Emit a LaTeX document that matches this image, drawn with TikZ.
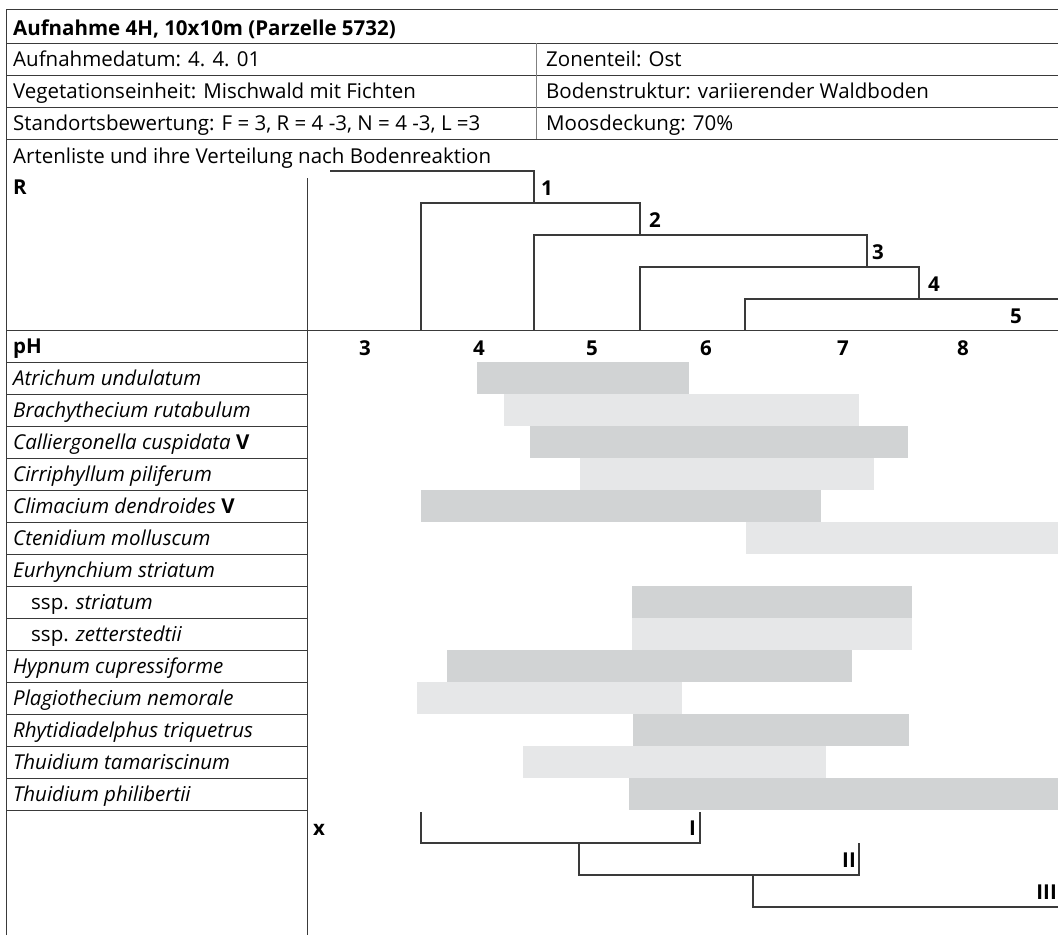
\documentclass[tikz,border=0pt]{standalone}
\usepackage{fontspec}
\setmainfont{Open Sans}
\definecolor{bardark}{HTML}{D1D3D4}
\definecolor{barlight}{HTML}{E6E7E8}
\definecolor{rulegray}{HTML}{3A3A3A}
\tikzset{
    grid line/.style = {
        draw=rulegray,
        line width=1pt,
        },
    tree line/.style = {
        draw=rulegray,
        line width=1.1pt,
        },
    cell/.style = {
        anchor=base west,
        inner sep=0pt,
        font=\fontsize{20.5}{24}\selectfont,
        },
    head/.style = {
        cell,
        font=\fontsize{20.5}{24}\selectfont\bfseries,
        },
    species/.style = {
        cell,
        font=\fontsize{20.5}{24}\selectfont\itshape,
        },
    tick label/.style = {
        anchor=base,
        inner sep=0pt,
        font=\fontsize{20.5}{24}\selectfont\bfseries,
        },
    dark bar/.style = {
        fill=bardark,
        },
    light bar/.style = {
        fill=barlight,
        },
}

\begin{document}
\begin{tikzpicture}[x=1pt,y=-1pt]
    \useasboundingbox (0,0) rectangle (1058,935);

    % bars
    \fill[dark bar]  (477,362) rectangle (689,394);
    \fill[light bar] (504,394) rectangle (859,426);
    \fill[dark bar]  (530,426) rectangle (908,458);
    \fill[light bar] (580,458) rectangle (874,490);
    \fill[dark bar]  (421,490) rectangle (821,522);
    \fill[light bar] (746,522) rectangle (1058,554);
    \fill[dark bar]  (632,586) rectangle (912,618);
    \fill[light bar] (632,618) rectangle (912,650);
    \fill[dark bar]  (447,650) rectangle (852,682);
    \fill[light bar] (417,682) rectangle (682,714);
    \fill[dark bar]  (633,714) rectangle (909,746);
    \fill[light bar] (523,746) rectangle (826,778);
    \fill[dark bar]  (629,778) rectangle (1058,810);

    % table frame
    \draw[grid line] (6,935) -- (6,9) -- (1058,9);
    \draw[grid line] (6,43) -- (1058,43);
    \draw[grid line] (6,75) -- (1058,75);
    \draw[grid line] (6,107) -- (1058,107);
    \draw[grid line] (6,139) -- (1058,139);
    \draw[grid line, draw=gray] (536,43) -- (536,139);
    \draw[grid line] (307,178) -- (307,935);
    \draw[grid line] (6,330) -- (1058,330);
    \foreach \y in {362,394,...,810}
        \draw[grid line] (6,\y) -- (307,\y);

    % header
    \node[head] (title) at (13,35) {Aufnahme 4H, 10x10m (Parzelle 5732)};
    \node[cell] (datum) at (13,66) {Aufnahmedatum: 4. 4. 01};
    \node[cell] (zone) at (546,66) {Zonenteil: Ost};
    \node[cell] (veg) at (13,98) {Vegetationseinheit: Mischwald mit Fichten};
    \node[cell] (boden) at (546,98) {Bodenstruktur: variierender Waldboden};
    \node[cell] (standort) at (13,130) {Standortsbewertung: F = 3, R = 4 -3, N = 4 -3, L =3};
    \node[cell] (moos) at (546,130) {Moosdeckung: 70\%};
    \node[cell] (arten) at (13,163) {Artenliste und ihre Verteilung nach Bodenreaktion};
    \node[head] (rlabel) at (13,194) {R};
    \node[head] (phlabel) at (13,353) {pH};

    % species
    \node[species] (atrichum) at (13,385) {Atrichum undulatum};
    \node[species] (brachy) at (13,417) {Brachythecium rutabulum};
    \node[species] (callier) at (13,449) {Calliergonella cuspidata {\upshape\bfseries V}};
    \node[species] (cirri) at (13,481) {Cirriphyllum piliferum};
    \node[species] (clima) at (13,513) {Climacium dendroides {\upshape\bfseries V}};
    \node[species] (cteni) at (13,545) {Ctenidium molluscum};
    \node[species] (eurhyn) at (13,577) {Eurhynchium striatum};
    \node[cell] (striatum) at (31,609) {ssp. \textit{striatum}};
    \node[cell] (zetter) at (31,641) {ssp. \textit{zetterstedtii}};
    \node[species] (hypnum) at (13,673) {Hypnum cupressiforme};
    \node[species] (plagio) at (13,705) {Plagiothecium nemorale};
    \node[species] (rhytid) at (13,737) {Rhytidiadelphus triquetrus};
    \node[species] (thuitam) at (13,769) {Thuidium tamariscinum};
    \node[species] (thuiphil) at (13,801) {Thuidium philibertii};

    % pH axis
    \node[tick label] (ph3) at (365,355) {3};
    \node[tick label] (ph4) at (479,355) {4};
    \node[tick label] (ph5) at (592,355) {5};
    \node[tick label] (ph6) at (706,355) {6};
    \node[tick label] (ph7) at (843,355) {7};
    \node[tick label] (ph8) at (963,355) {8};

    % R tree
    \draw[tree line] (330,171) -| (534,203);
    \draw[tree line] (421,330) |- (640,203) -- (640,235);
    \draw[tree line] (534,330) |- (867,235) -- (867,267);
    \draw[tree line] (640,330) |- (919,267) -- (919,299);
    \draw[tree line] (745,330) |- (1058,299);
    \node[head] (r1) at (541,195) {1};
    \node[head] (r2) at (649,227) {2};
    \node[head] (r3) at (872,259) {3};
    \node[head] (r4) at (928,291) {4};
    \node[head] (r5) at (1010,323) {5};

    % x groups
    \node[tick label] (xlabel) at (319,835) {x};
    \draw[tree line] (421,812) |- (700,843) -- (700,812);
    \draw[tree line] (579,843) |- (859,875) -- (859,843);
    \draw[tree line] (753,875) |- (1058,907);
    \node[head, anchor=base east] (g1) at (696,835) {I};
    \node[head, anchor=base east] (g2) at (856,867) {II};
    \node[head, anchor=base east] (g3) at (1057,899) {III};
\end{tikzpicture}
\end{document}
